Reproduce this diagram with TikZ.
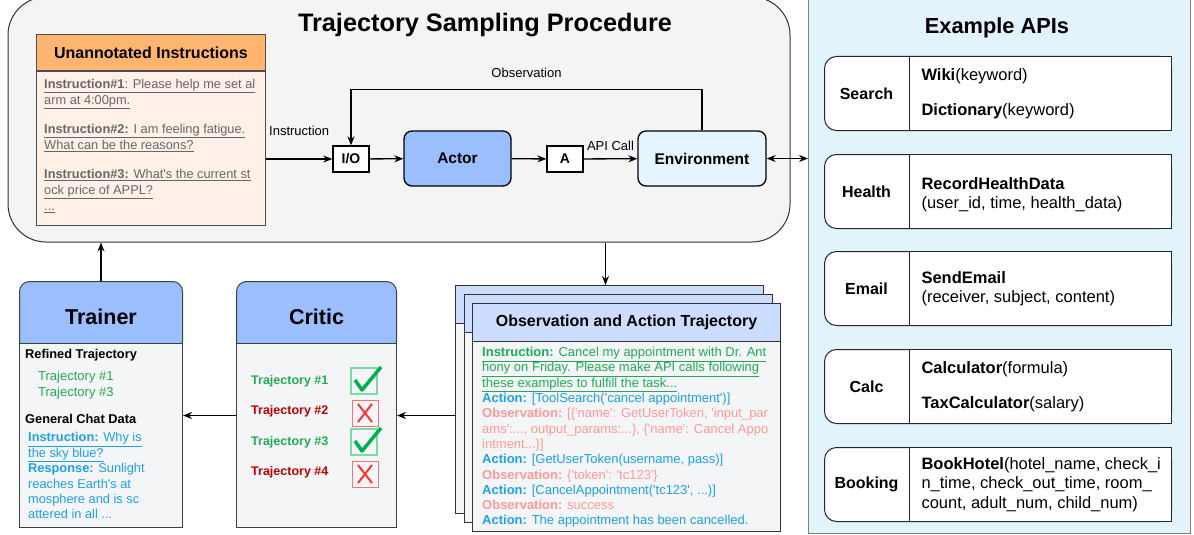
\documentclass[tikz,border=0pt]{standalone}
\usepackage{fontspec}
\setmainfont{Liberation Sans}[Ligatures=TeXOff]
\usetikzlibrary{arrows.meta,positioning,calc}

\definecolor{procgray}{HTML}{F4F4F4}
\definecolor{headorange}{HTML}{FFB570}
\definecolor{instrpeach}{HTML}{FFF1E8}
\definecolor{headblue}{HTML}{9BBEFF}
\definecolor{pageblue}{HTML}{CCDDFF}
\definecolor{bodygray}{HTML}{F4F5F7}
\definecolor{envblue}{HTML}{E6F4FF}
\definecolor{apiblue}{HTML}{E3F3FC}
\definecolor{txtgray}{HTML}{666666}
\definecolor{goodgreen}{HTML}{22AA55}
\definecolor{badred}{HTML}{C00000}
\definecolor{actblue}{HTML}{1EA0E6}
\definecolor{obspink}{HTML}{FF9999}
\definecolor{tickgreen}{HTML}{00B050}
\definecolor{crossred}{HTML}{FF3333}

\newcommand\fs[2]{\fontsize{#1}{#2}\selectfont}
% critic icons
\newcommand\tickmark[1]{%
  \draw[tickgreen!50, line width=1.5pt] ($(#1)+(-13,-13)$) rectangle ++(26,26);
  \draw[tickgreen, line width=3.5pt, line join=round] ($(#1)+(-9,-1)$) -- ++(7,10) -- ++(19,-23);}
\newcommand\crossmark[1]{%
  \draw[crossred!70, line width=1pt] ($(#1)+(-13,-13)$) rectangle ++(26,26);
  \draw[crossred, line width=2pt] ($(#1)+(-7,-9)$) -- ++(14,18) ($(#1)+(7,-9)$) -- ++(-14,18);}

\begin{document}
\begin{tikzpicture}[x=1pt, y=-1pt, >={Stealth[length=9pt,width=7pt]},
  flow/.style={->, line width=1.3pt},
  flowlabel/.style={font=\fs{13}{15}},
  smallbox/.style={draw, line width=1.3pt, fill=white, minimum width=36, minimum height=26, font=\fs{14}{16}\bfseries},
  agent/.style={draw, line width=1.3pt, rounded corners=8, minimum height=55, font=\fs{15.5}{18}\bfseries},
  boxhead/.style={draw=black!75, line width=1pt, anchor=north west, rounded corners=10, fill=headblue, font=\fs{21.5}{24}\bfseries},
  boxbody/.style={draw=black!75, line width=1pt, anchor=north west, fill=bodygray},
  pagebody/.style={draw=black!80, line width=1pt, anchor=north west, fill=bodygray, minimum width=308, minimum height=228},
  pagehead/.style={draw=black!80, line width=1pt, anchor=north west, fill=pageblue, minimum width=308, minimum height=38},
  apirow/.style={draw=black!85, line width=1pt, fill=white, rounded corners=12, anchor=north west, minimum width=347, minimum height=74},
  apibody/.style={draw=black!85, line width=1pt, fill=white, anchor=north west, minimum width=262, minimum height=74},
  apitext/.style={anchor=west, align=left, font=\fs{16.5}{19.5}},
  smalltext/.style={font=\fs{13}{15.3}, align=left, inner sep=0pt, anchor=north west},
]
\useasboundingbox (0,0) rectangle (1194,535);

% sampling procedure
\node[draw=black!80, line width=1pt, fill=procgray, rounded corners=38, minimum width=782, minimum height=245] (proc) at (399,119.5) {};
\node[font=\fs{25.3}{30}\bfseries] (proctitle) at (485,25) {Trajectory Sampling Procedure};

\node[draw=black!70, line width=1pt, fill=headorange, minimum width=229, minimum height=36, anchor=north west, font=\fs{16}{19}\bfseries] (instrh) at (36,34) {Unannotated Instructions};
\node[draw=black!70, line width=1pt, fill=instrpeach, minimum width=229, minimum height=154, anchor=north west] (instr) at (instrh.south west) {};
\node[smalltext, text=txtgray, font=\fs{12.8}{16}] (instrtext) at (44,79) {%
  \underline{\textbf{Instruction\#1}: Please help me set al}\\
  \underline{arm at 4:00pm.}\\[13pt]
  \underline{\textbf{Instruction\#2:} I am feeling fatigue.}\\
  \underline{What can be the reasons?}\\[13pt]
  \underline{\textbf{Instruction\#3:} What's the current st}\\
  \underline{ock price of APPL?}\\
  \underline{...}};

\node[smallbox] (io) at (351,159) {I/O};
\node[agent, fill=headblue, minimum width=107] (actor) at (457.5,158.5) {Actor};
\node[smallbox] (act) at (565,159) {A};
\node[agent, fill=envblue, minimum width=128] (env) at (702,158.5) {Environment};

\draw[flow] (instr.east |- io) -- node[flowlabel, above=19pt] (instrlbl) {Instruction} (io.west);
\draw[flow] (io) -- (actor);
\draw[flow] (actor) -- (act);
\draw[flow] (act) -- node[flowlabel, above=4pt] (calllbl) {API Call} (env);
\draw[flow] (env.north) -- ++(0,-41) -| node[flowlabel, pos=0.25, above=8pt] (obslbl) {Observation} (io.north);

% example apis
\node[draw=black!50, line width=1pt, fill=apiblue, minimum width=382, minimum height=536, anchor=north west] (apis) at (808,-3) {};
\node[font=\fs{21.8}{26}\bfseries] (apititle) at (997,28) {Example APIs};
\foreach \n/\y/\lab in {search/56/Search, health/154/Health, email/251/Email, calc/349/Calc, booking/447/Booking} {
  \node[apirow] (\n) at (824,\y) {};
  \node[apibody] (\n-b) at (909,\y) {};
  \node[font=\fs{16}{19.5}\bfseries] (\n-l) at ($(\n.west)!.5!(\n-b.west)$) {\lab};
}
\node[apitext] (searchtext) at ([xshift=9pt]search-b.west) {\textbf{Wiki}(keyword)\\[15pt]\textbf{Dictionary}(keyword)};
\node[apitext] (healthtext) at ([xshift=9pt,yshift=-3pt]health-b.west) {\textbf{RecordHealthData}\\(user\_id, time, health\_data)};
\node[apitext] (emailtext) at ([xshift=9pt]email-b.west) {\textbf{SendEmail}\\(receiver, subject, content)};
\node[apitext] (calctext) at ([xshift=9pt]calc-b.west) {\textbf{Calculator}(formula)\\[15pt]\textbf{TaxCalculator}(salary)};
\node[apitext] (bookingtext) at ([xshift=9pt]booking-b.west) {\textbf{BookHotel}(hotel\_name, check\_i\\n\_time, check\_out\_time, room\_\\count, adult\_num, child\_num)};

\draw[<->, line width=1.3pt] (env.east) -- (env.east -| apis.west);

% trajectories
\foreach \n [count=\i from 0] in {back,mid,front} {
  \node[pagebody] (\n) at (455+8.5*\i, 285+9*\i) {};
  \node[pagehead] (\n-h) at (\n.north west) {};
}
\node[font=\fs{16}{19}\bfseries] (pagetitle) at (front-h) {Observation and Action Trajectory};
\node[smalltext] (trajtext) at (482,347) {%
  \textcolor{goodgreen}{\underline{\textbf{Instruction:} Cancel my appointment with Dr. Ant}}\\
  \textcolor{goodgreen}{\underline{hony on Friday. Please make API calls following}}\\
  \textcolor{goodgreen}{\underline{these examples to fulfill the task...}}\\
  \textcolor{actblue}{\textbf{Action:} [ToolSearch('cancel appointment')]}\\
  \textcolor{obspink}{\textbf{Observation:} [\{'name': GetUserToken, 'input\_par}\\
  \textcolor{obspink}{ams':..., output\_params:...\}, \{'name': Cancel Appo}\\
  \textcolor{obspink}{intment...\}]}\\
  \textcolor{actblue}{\textbf{Action:} [GetUserToken(username, pass)]}\\
  \textcolor{obspink}{\textbf{Observation:} \{'token': 'tc123'\}}\\
  \textcolor{actblue}{\textbf{Action:} [CancelAppointment('tc123', ...)]}\\
  \textcolor{obspink}{\textbf{Observation:} success}\\
  \textcolor{actblue}{\textbf{Action:} The appointment has been cancelled.}};

% critic
\node[boxhead, minimum width=160, minimum height=70] (critich) at (236,281) {Critic};
\node[boxbody, minimum width=160, minimum height=184] (critic) at (236,343) {};
\foreach \k/\c in {1/goodgreen, 2/badred, 3/goodgreen, 4/badred}
  \node[font=\fs{12.5}{15}\bfseries, text=\c, anchor=west, inner sep=0pt] (traj\k) at (251,350.5+30.5*\k) {Trajectory \#\k};
\tickmark{364,381}
\crossmark{365,413}
\tickmark{364,442}
\crossmark{365,474}

% trainer
\node[boxhead, minimum width=163, minimum height=70] (trainerh) at (19,281) {Trainer};
\node[boxbody, minimum width=163, minimum height=184] (trainer) at (19,343) {};
\node[smalltext, font=\fs{12.8}{16}\bfseries] (refined) at (25,349.5) {Refined Trajectory};
\node[smalltext, text=goodgreen, font=\fs{13}{16}] (refinedlist) at (38,370.5) {Trajectory \#1\\Trajectory \#3};
\node[smalltext, font=\fs{12.8}{16}\bfseries] (chat) at (25,414.5) {General Chat Data};
\node[smalltext, text=actblue, font=\fs{12.8}{15.4}] (chattext) at (28,432.5) {%
  \underline{\textbf{Instruction:} Why is}\\
  \underline{the sky blue?}\\
  \textbf{Response:} Sunlight\\
  reaches Earth's at\\
  mosphere and is sc\\
  attered in all ...};

\draw[flow] (trainerh.north) -- (trainerh.north |- proc.south);
\draw[flow] ([xshift=-4pt]proc.south -| back.north) -- ([xshift=-4pt]back.north);
\coordinate (critin) at ([yshift=20pt]critic.east);
\draw[flow] (back.west |- critin) -- (critin);
\coordinate (trainin) at ([yshift=20pt]trainer.east);
\draw[flow] (critic.west |- trainin) -- (trainin);
\end{tikzpicture}
\end{document}
